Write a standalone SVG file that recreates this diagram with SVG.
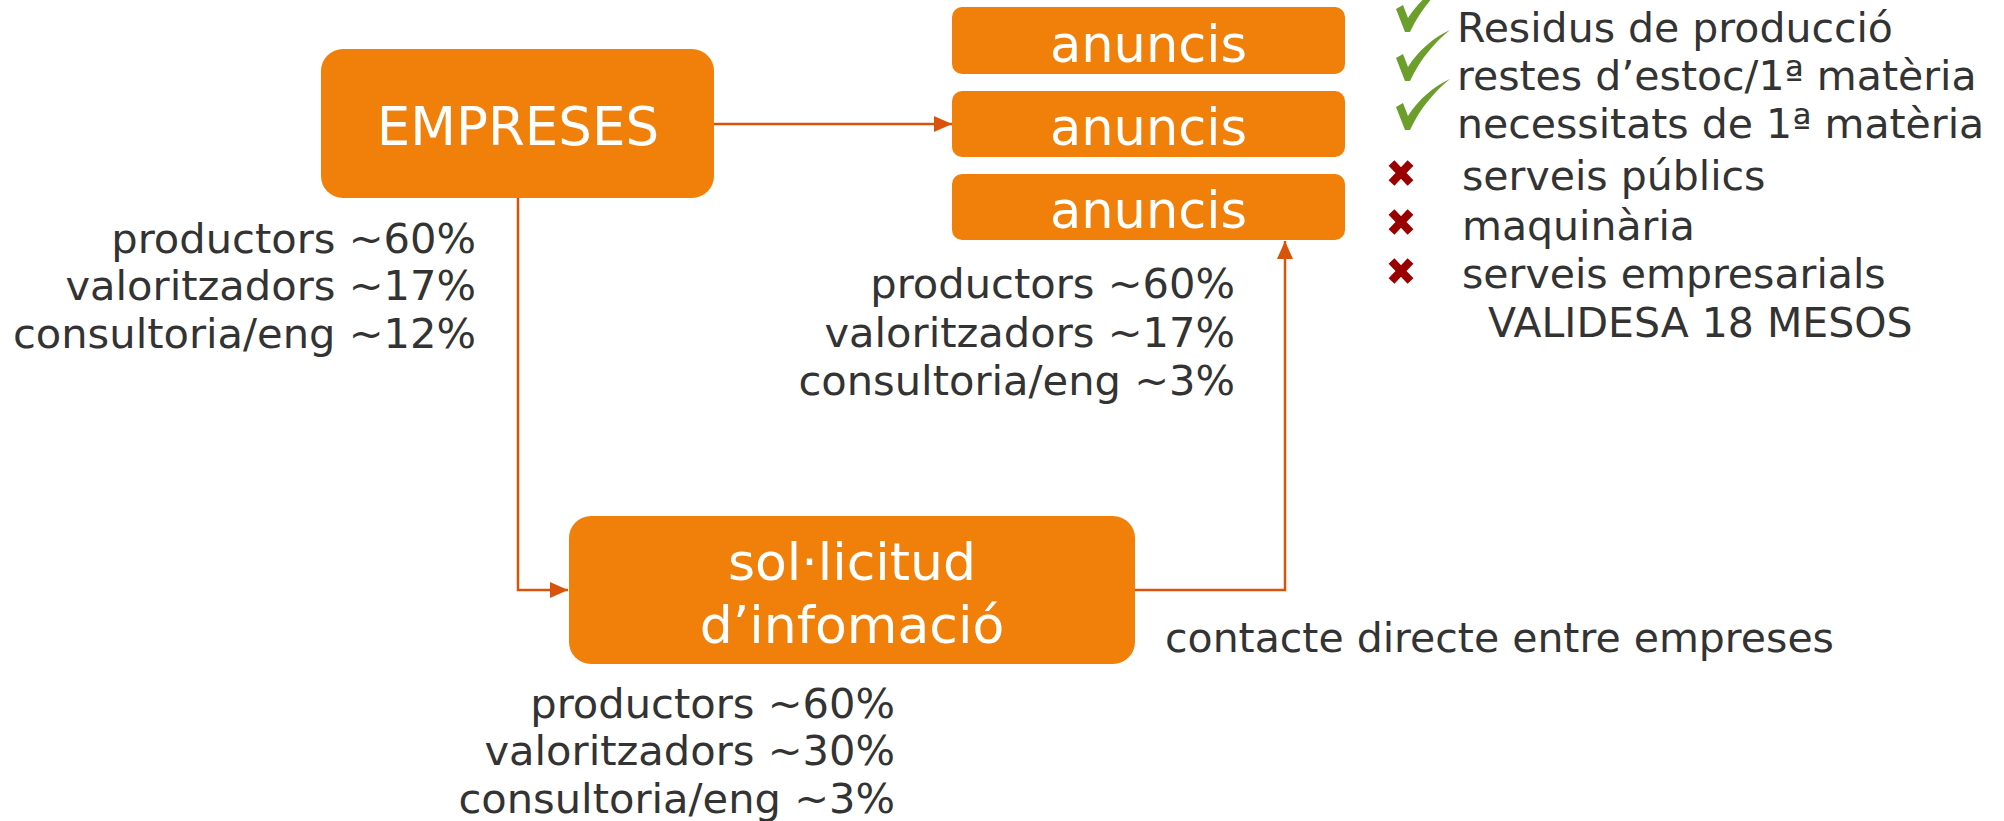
<svg xmlns="http://www.w3.org/2000/svg" width="2004" height="821" viewBox="0 0 2004 821">
<style>
.box{fill:#F0800A;}
.lbl{fill:#FFFFFF;font-family:"DejaVu Sans","Verdana",sans-serif;text-anchor:middle;}
.txt{fill:#333333;font-family:"DejaVu Sans","Verdana",sans-serif;font-size:41px;}
.pct{font-size:41.6px;}
.end{text-anchor:end;}
.conn{fill:none;stroke:#D9540A;stroke-width:2.5;}
.chk{fill:#6B9E2A;}
.x{stroke:#990000;stroke-width:8;stroke-linecap:butt;}
</style>
<defs>
<marker id="arr" viewBox="0 0 18 16" refX="18" refY="8" markerWidth="18" markerHeight="16" markerUnits="userSpaceOnUse" orient="auto">
<path d="M0,0 L18,8 L0,16 Z" fill="#D9540A"/>
</marker>
<path id="check" d="M-12,-23 L-5,-27 L0,-14 C10,-30 26,-44 42,-51 C28,-40 12,-22 2,0 L-3,0 Z"/>
<g id="cross"><path d="M-9.5,-10 L9.5,10 M-9.5,10 L9.5,-10"/></g>
</defs>
<rect width="2004" height="821" fill="#FFFFFF"/>
<g id="connectors">
<path class="conn" d="M714,124 L952,124" marker-end="url(#arr)"/>
<path class="conn" d="M518,198 L518,590 L568,590" marker-end="url(#arr)"/>
<path class="conn" d="M1135,590 L1285,590 L1285,241" marker-end="url(#arr)"/>
</g>
<g id="empreses">
<rect class="box" x="321" y="49" width="393" height="149" rx="22"/>
<text class="lbl" x="518" y="145" font-size="53">EMPRESES</text>
</g>
<g id="anuncis1">
<rect class="box" x="952" y="7" width="393" height="67" rx="10"/>
<text class="lbl" x="1148.5" y="62" font-size="51">anuncis</text>
</g>
<g id="anuncis2">
<rect class="box" x="952" y="91" width="393" height="66" rx="10"/>
<text class="lbl" x="1148.5" y="145" font-size="51">anuncis</text>
</g>
<g id="anuncis3">
<rect class="box" x="952" y="174" width="393" height="66" rx="10"/>
<text class="lbl" x="1148.5" y="228" font-size="51">anuncis</text>
</g>
<g id="solicitud">
<rect class="box" x="569" y="516" width="566" height="148" rx="22"/>
<text class="lbl" x="852" y="580" font-size="52">sol·licitud</text>
<text class="lbl" x="852" y="643" font-size="52">d’infomació</text>
</g>
<g id="labels-empreses">
<text class="txt pct end" x="476" y="253">productors ~60%</text>
<text class="txt pct end" x="476" y="300">valoritzadors ~17%</text>
<text class="txt pct end" x="476" y="348">consultoria/eng ~12%</text>
</g>
<g id="labels-anuncis">
<text class="txt pct end" x="1235" y="298">productors ~60%</text>
<text class="txt pct end" x="1235" y="347">valoritzadors ~17%</text>
<text class="txt pct end" x="1235" y="395">consultoria/eng ~3%</text>
</g>
<g id="labels-solicitud">
<text class="txt pct end" x="895" y="718">productors ~60%</text>
<text class="txt pct end" x="895" y="765">valoritzadors ~30%</text>
<text class="txt pct end" x="895" y="813">consultoria/eng ~3%</text>
</g>
<g id="contacte">
<text class="txt" x="1165" y="652">contacte directe entre empreses</text>
</g>
<g id="list">
<use href="#check" class="chk" transform="translate(1408,32)"/>
<use href="#check" class="chk" transform="translate(1408,81)"/>
<use href="#check" class="chk" transform="translate(1408,130)"/>
<use href="#cross" class="x" transform="translate(1401,173)"/>
<use href="#cross" class="x" transform="translate(1401,222)"/>
<use href="#cross" class="x" transform="translate(1401,271)"/>
<text class="txt" x="1457" y="42">Residus de producció</text>
<text class="txt" x="1457" y="90">restes d’estoc/1ª matèria</text>
<text class="txt" x="1457" y="138">necessitats de 1ª matèria</text>
<text class="txt" x="1462" y="190">serveis públics</text>
<text class="txt" x="1462" y="240">maquinària</text>
<text class="txt" x="1462" y="288">serveis empresarials</text>
<text class="txt" x="1488" y="337">VALIDESA 18 MESOS</text>
</g>
</svg>
